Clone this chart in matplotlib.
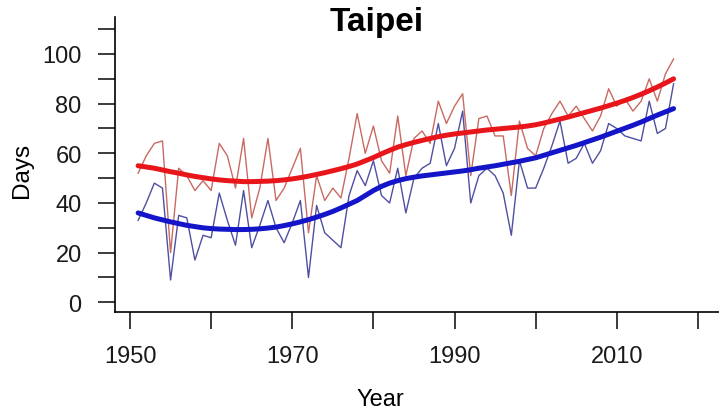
import matplotlib
matplotlib.use("Agg")
import matplotlib.pyplot as plt

plt.rcParams['font.family'] = ['Liberation Sans', 'DejaVu Sans']

years = list(range(1951, 2018))

red_raw = [52, 59, 64, 65, 20, 54, 51, 45, 49, 45,
           64, 59, 46, 66, 34, 46, 66, 41, 46, 54,
           62, 28, 51, 41, 46, 42, 58, 76, 60, 71,
           57, 52, 75, 51, 66, 69, 64, 81, 72, 79,
           84, 51, 74, 75, 67, 67, 43, 73, 62, 59,
           70, 76, 81, 75, 79, 74, 69, 75, 86, 79,
           82, 77, 81, 90, 81, 92, 98]

blue_raw = [33, 40, 48, 46, 9, 35, 34, 17, 27, 26,
            44, 33, 23, 45, 22, 31, 41, 30, 24, 32,
            41, 10, 39, 28, 25, 22, 43, 53, 47, 57,
            43, 40, 54, 36, 50, 54, 56, 72, 55, 62,
            77, 40, 51, 54, 51, 44, 27, 57, 46, 46,
            54, 63, 73, 56, 58, 64, 56, 61, 72, 70,
            67, 66, 65, 81, 68, 70, 88]

red_trend = [55, 54.5, 54, 53.3, 52.6, 52, 51.3, 50.7, 50.2, 49.7,
             49.3, 49, 48.8, 48.6, 48.6, 48.7, 48.8, 49, 49.3, 49.7,
             50.2, 50.8, 51.5, 52.2, 53, 53.8, 54.7, 55.7, 57, 58.3,
             59.8, 61.2, 62.5, 63.5, 64.4, 65.2, 66, 66.7, 67.3, 67.8,
             68.2, 68.6, 69, 69.4, 69.7, 70, 70.3, 70.6, 71, 71.5,
             72.2, 73, 73.8, 74.6, 75.5, 76.4, 77.3, 78.2, 79.2, 80.2,
             81.3, 82.5, 83.8, 85.2, 86.7, 88.3, 90]

blue_trend = [36, 35, 34, 33.2, 32.4, 31.7, 31, 30.5, 30, 29.7,
              29.5, 29.4, 29.3, 29.3, 29.4, 29.6, 29.9, 30.3, 30.9, 31.6,
              32.4, 33.3, 34.3, 35.4, 36.6, 38, 39.5, 41, 43, 45,
              46.7, 48, 49, 49.8, 50.4, 50.9, 51.3, 51.7, 52.1, 52.5,
              52.9, 53.4, 54, 54.5, 55, 55.6, 56.2, 56.8, 57.5, 58.2,
              59.2, 60.2, 61.2, 62.2, 63.2, 64.3, 65.4, 66.5, 67.7, 68.9,
              70.1, 71.3, 72.6, 74, 75.4, 76.7, 78]

x_ticks = [1950, 1960, 1970, 1980, 1990, 2000, 2010, 2020]
x_tick_labels = ['1950', '', '1970', '', '1990', '', '2010', '']
y_ticks = [0, 10, 20, 30, 40, 50, 60, 70, 80, 90, 100, 110]
y_tick_labels = ['0', '', '20', '', '40', '', '60', '', '80', '', '100', '']

W, H = 719, 414
fig = plt.figure(figsize=(W / 100, H / 100), dpi=100)
ax = fig.add_axes([115 / W, (H - 313) / H, (W - 115) / W, (313 - 18) / H])

ax.plot(years, red_raw, color='#c25a52', lw=1.0, alpha=0.9)
ax.plot(years, blue_raw, color='#3c3c98', lw=1.0, alpha=0.9)
ax.plot(years, red_trend, color='#e8151b', lw=3.6, solid_capstyle='round')
ax.plot(years, blue_trend, color='#1414c8', lw=3.6, solid_capstyle='round')

ax.set_xlim(1948.15, 2022.6)
ax.set_ylim(-3.9, 114.9)

for s in ['top', 'right']:
    ax.spines[s].set_visible(False)
for s in ['left', 'bottom']:
    ax.spines[s].set_linewidth(1.2)

ax.set_xticks(x_ticks)
ax.set_xticklabels(x_tick_labels)
ax.set_yticks(y_ticks)
ax.set_yticklabels(y_tick_labels)
ax.tick_params(axis='both', direction='out', length=12, width=1.2,
               labelsize=17, colors='#1a1a1a')
ax.tick_params(axis='x', pad=12)
ax.tick_params(axis='y', pad=12)

fig.text(377 / W, 1 - 22 / H, 'Taipei', ha='center', va='center',
         fontsize=24, fontweight='bold')
fig.text(380 / W, 1 - 400 / H, 'Year', ha='center', va='center', fontsize=17)
fig.text(22 / W, 1 - 170 / H, 'Days', ha='center', va='center', fontsize=17.5,
         rotation=90)

fig.savefig('out.png', dpi=100)
